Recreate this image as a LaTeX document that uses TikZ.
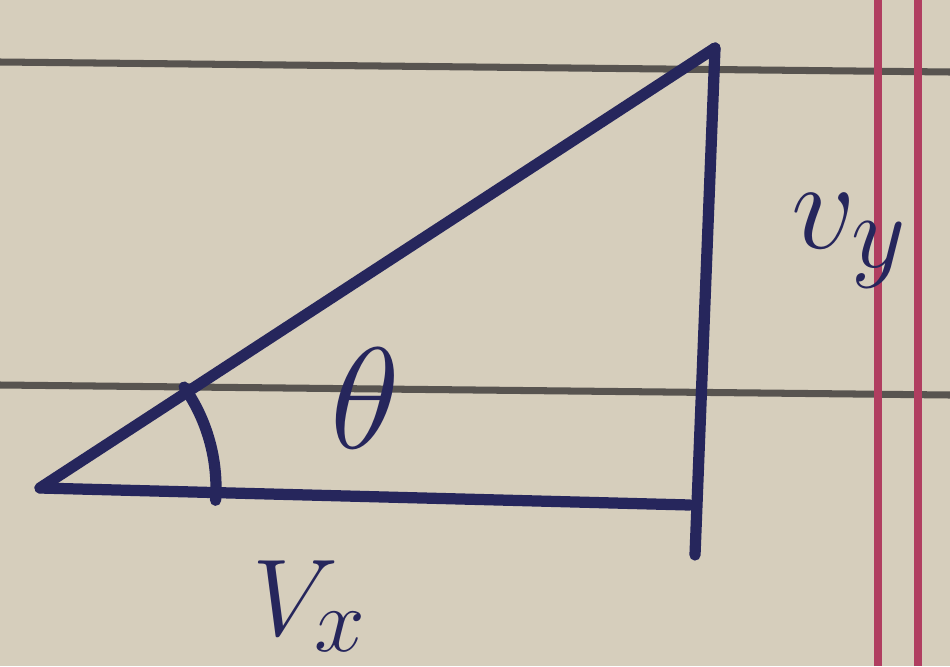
\documentclass[tikz,border=0pt]{standalone}
\usepackage{amsmath}
\definecolor{paper}{RGB}{214,206,188}
\definecolor{ink}{RGB}{38,38,92}
\definecolor{rule}{RGB}{88,84,80}
\definecolor{margin}{RGB}{176,62,96}

\begin{document}
\begin{tikzpicture}[>=stealth, ink line/.style={line width=3.2pt,color=ink,line cap=round,line join=round}, hand/.style={color=ink,font=\Huge}]
  \useasboundingbox (0,0) rectangle (9.5,6.66);
  \fill[paper] (0,0) rectangle (9.5,6.66);
  \draw[rule,line width=2pt] (0,6.04) -- (9.5,5.94);
  \draw[rule,line width=2pt] (0,2.81) -- (9.5,2.71);
  \draw[margin,line width=2.2pt] (8.78,0) -- (8.78,6.66);
  \draw[margin,line width=2.2pt] (9.18,0) -- (9.18,6.66);
  \coordinate (A) at (0.40,1.78);
  \coordinate (B) at (7.15,6.18);
  \coordinate (C) at (6.90,1.61);
  \coordinate (D) at (6.95,1.11);
  \draw[ink line] (A) -- (B);
  \draw[ink line] (A) -- (C);
  \draw[ink line] (B) -- (D);
  \draw[ink line] ([shift={(-4:1.76)}]A) arc[start angle=-4,end angle=35,radius=1.76];
  \node[hand,scale=1.65] (theta) at (3.65,2.68) {$\theta$};
  \node[hand,scale=1.45] (vy) at (8.5,4.25) {$v_{y}$};
  \node[hand,scale=1.25] (vx) at (3.1,0.6) {$V_{x}$};
\end{tikzpicture}
\end{document}
